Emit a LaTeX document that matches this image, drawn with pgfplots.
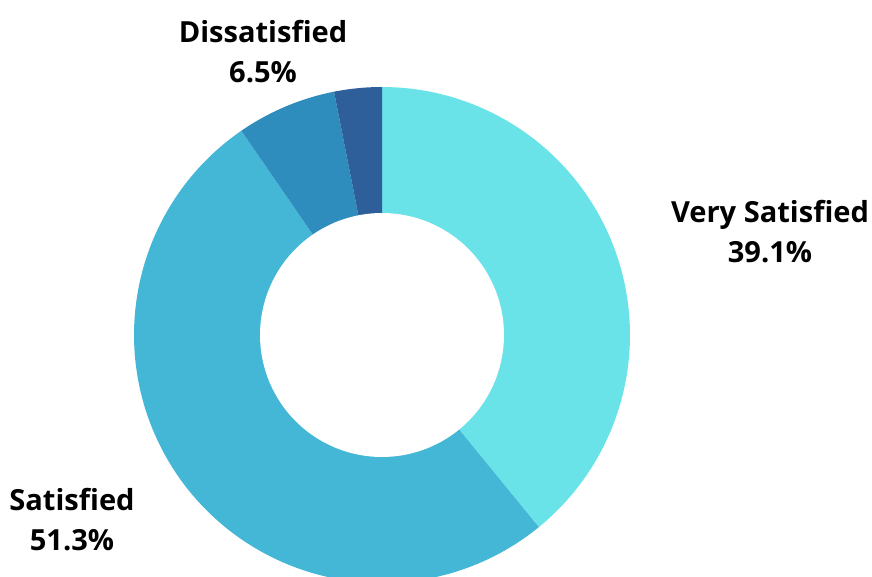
\documentclass[border=0pt]{standalone}
\usepackage{pgfplots}
\pgfplotsset{compat=1.18}
\usepackage{fontspec}
\setmainfont{Open Sans}
\definecolor{cA}{HTML}{6AE3E8}
\definecolor{cB}{HTML}{43B7D5}
\definecolor{cC}{HTML}{2E8DBD}
\definecolor{cD}{HTML}{2F5F9A}
% shares (percent)
\def\vA{39.1}\def\vB{51.3}\def\vC{6.5}\def\vD{3.1}
\def\cx{382}\def\cy{241}\def\R{248}\def\r{122}
\begin{document}
\begin{tikzpicture}
\pgfmathsetmacro\aA{90}
\pgfmathsetmacro\aB{\aA-3.6*\vA}
\pgfmathsetmacro\aC{\aB-3.6*\vB}
\pgfmathsetmacro\aD{\aC-3.6*\vC}
\pgfmathsetmacro\aE{\aD-3.6*\vD}
\begin{axis}[
  width=654pt, height=432pt, scale only axis,
  xmin=0, xmax=872, ymin=0, ymax=576,
  hide axis, clip=true,
  every axis plot/.append style={draw=none, samples=90, smooth=false},
]
\addplot[fill=cA, domain=\aB:\aA] ({\cx+\R*cos(x)},{\cy+\R*sin(x)}) -- (axis cs:\cx,\cy) -- cycle;
\addplot[fill=cB, domain=\aC:\aB] ({\cx+\R*cos(x)},{\cy+\R*sin(x)}) -- (axis cs:\cx,\cy) -- cycle;
\addplot[fill=cC, domain=\aD:\aC] ({\cx+\R*cos(x)},{\cy+\R*sin(x)}) -- (axis cs:\cx,\cy) -- cycle;
\addplot[fill=cD, domain=\aE:\aD] ({\cx+\R*cos(x)},{\cy+\R*sin(x)}) -- (axis cs:\cx,\cy) -- cycle;
\addplot[fill=white, domain=0:360] ({\cx+\r*cos(x)},{\cy+\r*sin(x)}) -- cycle;
\node[align=center, inner sep=0, font=\fontsize{21.8}{30}\selectfont\bfseries] at (axis cs:770,344) {Very Satisfied\\39.1\%};
\node[align=center, inner sep=0, font=\fontsize{21.8}{30}\selectfont\bfseries] at (axis cs:263,524) {Dissatisfied\\6.5\%};
\node[align=center, inner sep=0, font=\fontsize{21.8}{30}\selectfont\bfseries] at (axis cs:72,56) {Satisfied\\51.3\%};
\end{axis}
\pgfresetboundingbox
\path (current axis.south west) rectangle (current axis.north east);
\end{tikzpicture}
\end{document}
